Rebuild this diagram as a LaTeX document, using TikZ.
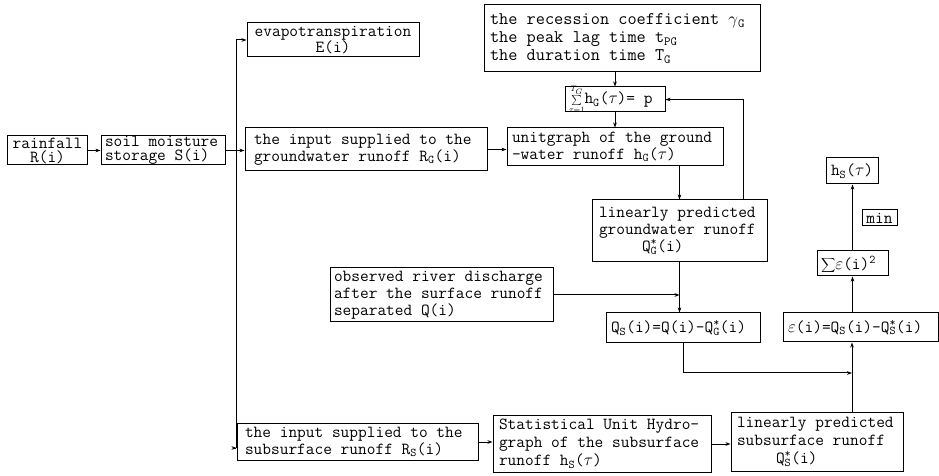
\documentclass[tikz,border=0pt]{standalone}
\usetikzlibrary{arrows.meta,calc}
\newcommand\tf[1]{\fontsize{16.9bp}{#1bp}\selectfont\ttfamily}
\newcommand\tfs[2]{\fontsize{#1bp}{#2bp}\selectfont\ttfamily}
\newcommand\sbs[1]{\textsubscript{#1}}
\newcommand\ssb[2]{\rlap{\textsuperscript{#1}}\textsubscript{#2}}
\begin{document}
\begin{tikzpicture}[x=1bp,y=-1bp,
  box/.style={draw, line width=1bp, inner ysep=0bp, font=\tf{17.5}},
  arr/.style={draw, line width=1bp, -{Stealth[length=5bp,width=3.6bp]}},
  ln/.style={draw, line width=1bp}]
\useasboundingbox (0,0) rectangle (939,476);

\node[box, font=\tf{14}, text width=71bp, inner xsep=4bp, minimum height=29bp, align=flush center] (rain) at (47.5,150.5) {rainfall\\R(i)};
\node[box, font=\tf{14}, text width=116bp, inner xsep=4bp, minimum height=29bp, align=flush left] (soil) at (163,150.5) {soil moisture\\storage S(i)};
\node[box, font=\tf{15}, text width=162bp, inner xsep=5bp, minimum height=34bp, align=flush center] (evap) at (333,40) {evapotranspiration\\E(i)};
\node[box, font=\tf{17}, text width=224bp, inner xsep=9bp, minimum height=43bp, align=flush left] (gin) at (366,149.5) {the input supplied to the\\groundwater runoff R\sbs{G}(i)};
\node[box, font=\tf{17}, text width=206bp, inner xsep=5bp, minimum height=38bp, align=flush left] (ugr) at (615,147) {unitgraph of the ground\\-water runoff h\sbs{G}($\tau$)};
\node[box, font=\tfs{17.8}{18}, text width=264bp, inner xsep=6bp, minimum height=67bp, align=flush left] (rec) at (622,38.5) {the recession coefficient $\gamma$\sbs{G}\\the peak lag time t\sbs{PG}\\the duration time T\sbs{G}};
\node[box, text width=92bp, inner xsep=4bp, minimum height=25bp, align=flush left] (sum) at (615,99.5) {\smash{$\scriptstyle\sum\limits_{\tau=1}^{T_G}$}h\sbs{G}($\tau$)= p};
\node[box, font=\tf{17}, text width=161bp, inner xsep=7bp, minimum height=62bp, align=flush left] (lpg) at (679.5,231) {linearly predicted\\groundwater runoff\\\hspace*{43bp}Q\ssb{*}{G}(i)};
\node[box, font=\tf{17}, text width=215bp, inner xsep=4bp, minimum height=54bp, align=flush left] (obs) at (441.5,295) {observed river discharge\\after the surface runoff\\separated Q(i)};
\node[box, text width=144bp, inner xsep=5bp, minimum height=30bp, align=flush left] (qs) at (683,328) {Q\sbs{S}(i)=Q(i)-Q\ssb{*}{G}(i)};
\node[box, text width=145bp, inner xsep=5bp, minimum height=29bp, align=flush left] (eps) at (860.5,327.5) {$\varepsilon$(i)=Q\sbs{S}(i)-Q\ssb{*}{S}(i)};
\node[box, text width=63bp, inner xsep=4bp, minimum height=25bp, align=flush left] (sig) at (852.5,263.5) {\smash{$\displaystyle\sum$}$\varepsilon$(i)\textsuperscript{2}};
\node[box, text width=27bp, inner xsep=4bp, minimum height=16bp, align=flush center] (min) at (879.5,218) {min};
\node[box, text width=44bp, inner xsep=4bp, minimum height=26bp, align=flush center] (hs) at (852,171) {h\sbs{S}($\tau$)};
\node[box, font=\tf{15}, text width=225bp, inner xsep=8bp, minimum height=36bp, align=flush left] (sin) at (357.5,442) {the input supplied to the\\subsurface runoff R\sbs{S}(i)};
\node[box, font=\tf{18}, text width=206bp, inner xsep=6bp, minimum height=56bp, align=flush left] (stat) at (602,444) {Statistical Unit Hydro-\\graph of the subsurface\\runoff h\sbs{S}($\tau$)};
\node[box, font=\tf{18}, text width=160bp, inner xsep=6bp, minimum height=58bp, align=flush left] (spr) at (817,442) {linearly predicted\\subsurface runoff\\\hspace*{39bp}Q\ssb{*}{S}(i)};

\coordinate (vt) at (236,40);
\coordinate (vb) at (236,448);
\coordinate (fbx) at (743,0);
\coordinate (jx) at (852,373);

\draw[arr] (rain.east) -- (soil.west);
\draw[arr] (soil.east) -- (soil.east -| gin.west);
\draw[ln] (vt) -- (vb);
\draw[arr] (vt) -- (vt -| evap.west);
\draw[arr] (vb) -- (vb -| sin.west);
\draw[arr] (gin.east) -- (gin.east -| ugr.west);
\draw[arr] (rec.south -| sum.north) -- (sum.north);
\draw[arr] (sum.south) -- (ugr.north -| sum.south);
\draw[arr] (ugr.south -| lpg.north) -- (lpg.north);
\draw[arr] (lpg.north -| fbx) |- (sum.east);
\draw[arr] (lpg.south) -- (qs.north -| lpg.south);
\draw[arr] (obs.east) -- (obs.east -| lpg.south);
\draw[arr] (qs.south) |- (jx);
\draw[arr] (spr.north -| jx) -- (eps.south -| jx);
\draw[arr] (eps.north -| sig.south) -- (sig.south);
\draw[arr] (sig.north) -- (hs.south -| sig.north);
\draw[arr] (sin.east) -- (sin.east -| stat.west);
\draw[arr] (stat.east) -- (stat.east -| spr.west);
\end{tikzpicture}
\end{document}
